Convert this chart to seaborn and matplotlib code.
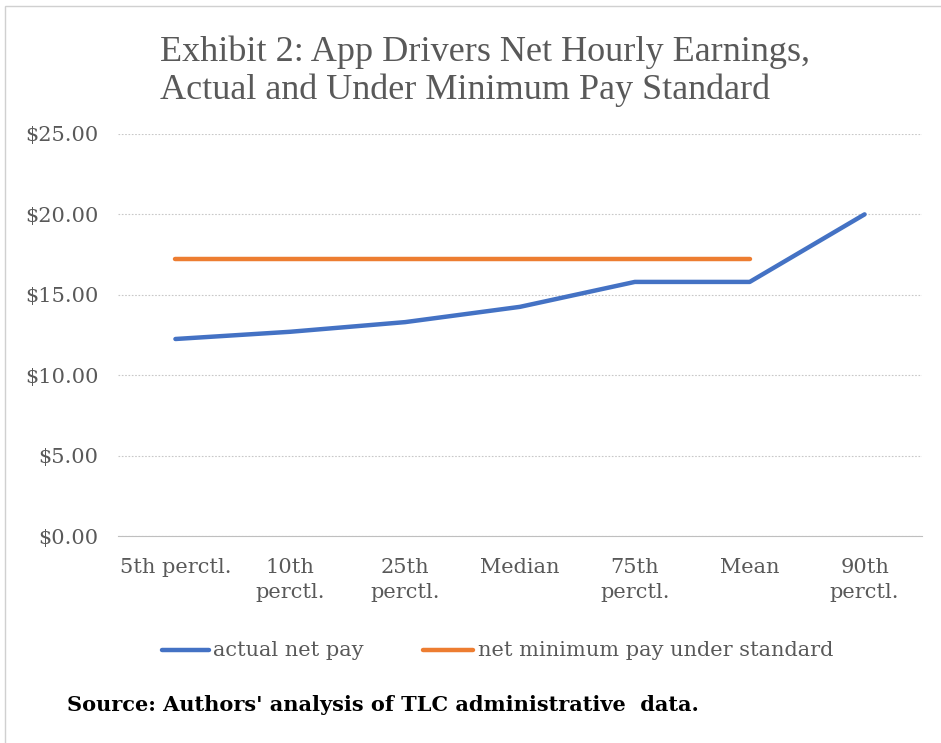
# Exhibit 2 - app drivers net hourly earnings

import pandas as pd
import numpy as np
import matplotlib.pyplot as plt
import seaborn as sns
from matplotlib.patches import Rectangle

categories = ["5th perctl.", "10th\nperctl.", "25th\nperctl.", "Median",
              "75th\nperctl.", "Mean", "90th\nperctl."]
actual_pay = [12.25, 12.7, 13.3, 14.25, 15.8, 15.8, 20.0]
minimum_pay = [17.2, 17.2, 17.2, 17.2, 17.2, 17.2, np.nan]
series_names = ["actual net pay", "net minimum pay under standard"]
y_ticks = [0, 5, 10, 15, 20, 25]

df = pd.DataFrame({
    "pos": list(range(len(categories))) * 2,
    "pay": actual_pay + minimum_pay,
    "series": [series_names[0]] * len(categories) + [series_names[1]] * len(categories),
}).dropna()

sns.set_style("white")
plt.rcParams["font.family"] = ["DejaVu Serif"]
title_font = ["Liberation Serif", "DejaVu Serif"]

fig = plt.figure(figsize=(9.41, 7.43), dpi=100)
ax = fig.add_axes([0.1254, 0.2786, 0.8544, 0.5411])

colors = {"actual net pay": "#4472C4", "net minimum pay under standard": "#ED7D31"}
sns.lineplot(data=df, x="pos", y="pay", hue="series", palette=colors,
             linewidth=3.2, ax=ax, legend=False, solid_capstyle="round")

ax.set_xlim(-0.5, len(categories) - 0.5)
ax.set_ylim(0, 25)
ax.set_yticks(y_ticks)
ax.set_yticklabels([f"${v:.2f}" for v in y_ticks], fontsize=15, color="#595959")
ax.set_xticks(range(len(categories)))
ax.set_xticklabels(categories, fontsize=15, color="#595959", linespacing=1.4,
                   va="top")
ax.set_xticks(np.arange(-0.5, len(categories)), minor=True)
ax.tick_params(axis="x", which="major", length=0, pad=16)
ax.tick_params(axis="x", which="minor", length=6, color="#bfbfbf", direction="out")
ax.tick_params(axis="y", length=0, pad=14)
for s in ["top", "right", "left"]:
    ax.spines[s].set_visible(False)
ax.spines["bottom"].set_color("#bfbfbf")
ax.grid(axis="y", linestyle=(0, (1.5, 1.5)), color="#c8c8c8", linewidth=0.8)
ax.set_axisbelow(True)
ax.set_xlabel("")
ax.set_ylabel("")

fig.text(0.17, 0.93, "Exhibit 2: App Drivers Net Hourly Earnings,",
         fontsize=26, color="#595959", va="center", family=title_font)
fig.text(0.17, 0.878, "Actual and Under Minimum Pay Standard",
         fontsize=26, color="#595959", va="center", family=title_font)

# legend
leg_y = 0.125
fig.add_artist(plt.Line2D([0.172, 0.222], [leg_y, leg_y], color=colors[series_names[0]],
                          linewidth=3.2, solid_capstyle="round"))
fig.text(0.226, leg_y, series_names[0], fontsize=15, color="#595959", va="center")
fig.add_artist(plt.Line2D([0.449, 0.503], [leg_y, leg_y], color=colors[series_names[1]],
                          linewidth=3.2, solid_capstyle="round"))
fig.text(0.508, leg_y, series_names[1], fontsize=15, color="#595959", va="center")

fig.text(0.071, 0.051, "Source: Authors' analysis of TLC administrative  data.",
         fontsize=15, color="black", fontweight="bold", va="center")

fig.add_artist(Rectangle((0.005, -0.01), 1.1, 1.002, transform=fig.transFigure,
                         fill=False, edgecolor="#d0d0d0", linewidth=1))

fig.savefig("out.png", dpi=100)
